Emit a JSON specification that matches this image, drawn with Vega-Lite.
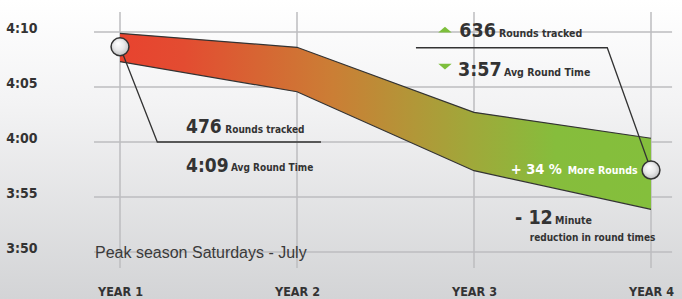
{
  "$schema": "https://vega.github.io/schema/vega-lite/v6.json",
  "width": 682,
  "height": 299,
  "autosize": {"type": "none"},
  "padding": 0,
  "background": "#e6e7e8",
  "config": {
    "view": {
      "stroke": null,
      "fill": {"gradient": "linear", "x1": 0, "y1": 0, "x2": 0, "y2": 1,
        "stops": [{"offset": 0, "color": "#ffffff"}, {"offset": 0.35, "color": "#f3f3f4"}, {"offset": 1, "color": "#d3d4d6"}]}
    }
  },
  "datasets": {
    "band": [
      {"year": 1, "upper": 249.88, "lower": 247.3},
      {"year": 2, "upper": 248.61, "lower": 244.57},
      {"year": 3, "upper": 242.7, "lower": 237.39},
      {"year": 4, "upper": 240.34, "lower": 233.88}
    ],
    "ticks": [{"t": 230}, {"t": 235}, {"t": 240}, {"t": 245}, {"t": 250}],
    "callouts": [
      {"year": 1, "t": 248.66},
      {"year": 4, "t": 237.45}
    ],
    "leaders": [
      {"leader": "a", "step": 1, "year": 1, "t": 248.66},
      {"leader": "a", "step": 2, "year": 1.2107, "t": 240},
      {"leader": "a", "step": 3, "year": 2.1356, "t": 240},
      {"leader": "b", "step": 1, "year": 2.672, "t": 248.57},
      {"leader": "b", "step": 2, "year": 3.753, "t": 248.57},
      {"leader": "b", "step": 3, "year": 4, "t": 237.45}
    ]
  },
  "encoding": {
    "x": {"type": "quantitative", "scale": {"domain": [0.32203, 4.17514], "nice": false, "zero": false}},
    "y": {"type": "quantitative", "scale": {"domain": [225.727, 252.909], "nice": false, "zero": false}}
  },
  "layer": [
    {
      "data": {"name": "ticks"},
      "mark": {"type": "rule", "color": "#bcbdbf", "strokeWidth": 1.5},
      "encoding": {
        "y": {"field": "t", "type": "quantitative",
          "axis": {"orient": "left", "offset": -67, "values": [230, 235, 240, 245, 250], "title": null,
            "grid": false, "ticks": false, "domain": false, "labelPadding": 30, "labelOffset": -3,
            "labelExpr": "floor(datum.value/60) + ':' + (datum.value % 60 < 10 ? '0' : '') + (datum.value % 60)",
            "labelFont": "DejaVu Sans Condensed", "labelFontWeight": "bold", "labelFontSize": 14, "labelColor": "#333333"}},
        "x": {"datum": 0.853},
        "x2": {"datum": 4.119}
      }
    },
    {
      "data": {"name": "band"},
      "mark": {"type": "rule", "color": "#bcbdbf", "strokeWidth": 1.5},
      "encoding": {
        "x": {"field": "year", "type": "quantitative",
          "axis": {"orient": "bottom", "offset": -20, "values": [1, 2, 3, 4], "title": null,
            "grid": false, "ticks": false, "domain": false, "labelPadding": 6, "labelFlush": false,
            "labelExpr": "'YEAR ' + datum.value",
            "labelFont": "DejaVu Sans Condensed", "labelFontWeight": "bold", "labelFontSize": 12.5, "labelColor": "#333333"}},
        "y": {"datum": 251.82},
        "y2": {"datum": 228.545}
      }
    },
    {
      "mark": {"type": "rule", "color": "#333333", "strokeWidth": 2.2},
      "encoding": {"x": {"datum": 0.70056}, "y": {"datum": 251.909}, "y2": {"datum": 227.545}}
    },
    {
      "mark": {"type": "rule", "color": "#333333", "strokeWidth": 2.2},
      "encoding": {"y": {"datum": 227.545}, "x": {"datum": 0.69}, "x2": {"datum": 4.17514}}
    },
    {
      "data": {"name": "band"},
      "mark": {"type": "area",
        "fill": {"gradient": "linear", "x1": 0, "y1": 0, "x2": 1, "y2": 0,
          "stops": [
            {"offset": 0, "color": "#e8432f"},
            {"offset": 0.12, "color": "#e34c31"},
            {"offset": 0.4, "color": "#cb7e35"},
            {"offset": 0.66, "color": "#a0a83a"},
            {"offset": 0.82, "color": "#86bd3c"},
            {"offset": 1, "color": "#84bf3c"}
          ]}},
      "encoding": {
        "x": {"field": "year", "type": "quantitative"},
        "y": {"field": "upper", "type": "quantitative"},
        "y2": {"field": "lower"}
      }
    },
    {
      "data": {"name": "band"},
      "mark": {"type": "line", "color": "#333333", "strokeWidth": 1.2},
      "encoding": {
        "x": {"field": "year", "type": "quantitative"},
        "y": {"field": "upper", "type": "quantitative"}
      }
    },
    {
      "data": {"name": "band"},
      "mark": {"type": "line", "color": "#333333", "strokeWidth": 1.2},
      "encoding": {
        "x": {"field": "year", "type": "quantitative"},
        "y": {"field": "lower", "type": "quantitative"}
      }
    },
    {
      "data": {"name": "leaders"},
      "mark": {"type": "line", "color": "#333333", "strokeWidth": 1.3},
      "encoding": {
        "x": {"field": "year", "type": "quantitative"},
        "y": {"field": "t", "type": "quantitative"},
        "detail": {"field": "leader"},
        "order": {"field": "step"}
      }
    },
    {
      "data": {"name": "callouts"},
      "mark": {"type": "point", "shape": "circle", "filled": true, "size": 320, "opacity": 1,
        "stroke": "#333333", "strokeWidth": 1.5,
        "fill": {"gradient": "radial", "x1": 0.38, "y1": 0.3, "r1": 0, "x2": 0.5, "y2": 0.5, "r2": 0.6,
          "stops": [{"offset": 0, "color": "#ffffff"}, {"offset": 0.5, "color": "#e9e9ea"}, {"offset": 1, "color": "#b5b6b8"}]}},
      "encoding": {
        "x": {"field": "year", "type": "quantitative"},
        "y": {"field": "t", "type": "quantitative"}
      }
    },
    {
      "data": {"values": [{"year": 2.836, "t": 250.22, "dir": "up"}, {"year": 2.836, "t": 246.85, "dir": "down"}]},
      "mark": {"type": "point", "filled": true, "size": 180, "opacity": 1, "color": "#7dbf3c"},
      "encoding": {
        "x": {"field": "year", "type": "quantitative"},
        "y": {"field": "t", "type": "quantitative"},
        "shape": {"field": "dir", "type": "nominal", "legend": null,
          "scale": {"domain": ["up", "down"], "range": ["M-1,0.42L1,0.42L0,-0.42Z", "M-1,-0.42L1,-0.42L0,0.42Z"]}}
      }
    },
    {
      "data": {"values": [
        {"year": 1.3729, "t": 240.79, "text": "476"},
        {"year": 1.3729, "t": 237.30, "text": "4:09"}
      ]},
      "mark": {"type": "text", "align": "left", "baseline": "alphabetic", "font": "DejaVu Sans Condensed", "fontWeight": "bold", "fontSize": 19, "color": "#333333"},
      "encoding": {"x": {"field": "year", "type": "quantitative"}, "y": {"field": "t", "type": "quantitative"}, "text": {"field": "text"}}
    },
    {
      "data": {"values": [
        {"year": 2.917, "t": 249.52, "text": "636"},
        {"year": 2.9096, "t": 246.04, "text": "3:57"},
        {"year": 3.2316, "t": 232.52, "text": "- 12"}
      ]},
      "mark": {"type": "text", "align": "left", "baseline": "alphabetic", "font": "DejaVu Sans Condensed", "fontWeight": "bold", "fontSize": 19.5, "color": "#333333"},
      "encoding": {"x": {"field": "year", "type": "quantitative"}, "y": {"field": "t", "type": "quantitative"}, "text": {"field": "text"}}
    },
    {
      "data": {"values": [
        {"year": 1.5949, "t": 240.82, "text": "Rounds tracked"},
        {"year": 1.6271, "t": 237.32, "text": "Avg Round Time"}
      ]},
      "mark": {"type": "text", "align": "left", "baseline": "alphabetic", "font": "DejaVu Sans Condensed", "fontWeight": "bold", "fontSize": 10, "color": "#333333"},
      "encoding": {"x": {"field": "year", "type": "quantitative"}, "y": {"field": "t", "type": "quantitative"}, "text": {"field": "text"}}
    },
    {
      "data": {"values": [
        {"year": 3.1412, "t": 249.52, "text": "Rounds tracked"},
        {"year": 3.1695, "t": 246.04, "text": "Avg Round Time"},
        {"year": 3.4576, "t": 232.52, "text": "Minute"}
      ]},
      "mark": {"type": "text", "align": "left", "baseline": "alphabetic", "font": "DejaVu Sans Condensed", "fontWeight": "bold", "fontSize": 10.5, "color": "#333333"},
      "encoding": {"x": {"field": "year", "type": "quantitative"}, "y": {"field": "t", "type": "quantitative"}, "text": {"field": "text"}}
    },
    {
      "data": {"values": [
        {"year": 3.3147, "t": 231.03, "text": "reduction in round times"}
      ]},
      "mark": {"type": "text", "align": "left", "baseline": "alphabetic", "font": "DejaVu Sans Condensed", "fontWeight": "bold", "fontSize": 10, "color": "#333333"},
      "encoding": {"x": {"field": "year", "type": "quantitative"}, "y": {"field": "t", "type": "quantitative"}, "text": {"field": "text"}}
    },
    {
      "data": {"values": [{"year": 3.2073, "t": 237.09, "text": "+ 34 %"}]},
      "mark": {"type": "text", "align": "left", "baseline": "alphabetic", "font": "DejaVu Sans Condensed", "fontWeight": "bold", "fontSize": 14.5, "color": "#ffffff"},
      "encoding": {"x": {"field": "year", "type": "quantitative"}, "y": {"field": "t", "type": "quantitative"}, "text": {"field": "text"}}
    },
    {
      "data": {"values": [{"year": 3.5294, "t": 237.09, "text": "More Rounds"}]},
      "mark": {"type": "text", "align": "left", "baseline": "alphabetic", "font": "DejaVu Sans Condensed", "fontWeight": "bold", "fontSize": 10.5, "color": "#ffffff"},
      "encoding": {"x": {"field": "year", "type": "quantitative"}, "y": {"field": "t", "type": "quantitative"}, "text": {"field": "text"}}
    },
    {
      "data": {"values": [{"year": 0.8588, "t": 229.43, "text": "Peak season Saturdays - July"}]},
      "mark": {"type": "text", "align": "left", "baseline": "alphabetic", "font": "Liberation Sans", "fontSize": 16, "color": "#3a3a3a"},
      "encoding": {"x": {"field": "year", "type": "quantitative"}, "y": {"field": "t", "type": "quantitative"}, "text": {"field": "text"}}
    }
  ]
}
